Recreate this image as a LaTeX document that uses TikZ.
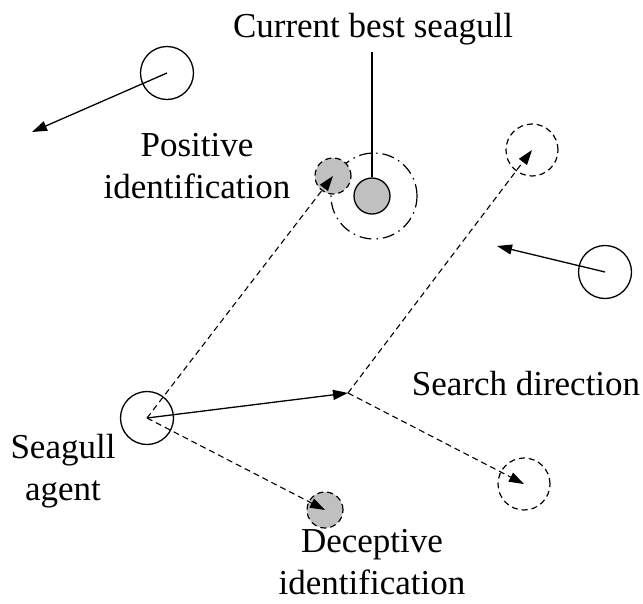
\documentclass[tikz,border=0pt]{standalone}
\usepackage{fontspec}
\setmainfont{Liberation Serif}
\usepackage{xcolor}
\usetikzlibrary{arrows.meta}
\definecolor{gullgray}{HTML}{C0C0C0}
\tikzset{
  gull/.style={circle,draw,line width=1.3pt,minimum size=53pt,inner sep=0pt},
  trial/.style={circle,draw,line width=1.2pt,dash pattern=on 6pt off 4pt,minimum size=52pt,inner sep=0pt},
  target/.style={circle,draw,fill=gullgray,line width=1.2pt,dash pattern=on 6pt off 4pt,minimum size=36pt,inner sep=0pt},
  best/.style={circle,draw,fill=gullgray,line width=1.3pt,minimum size=36pt,inner sep=0pt},
  halo/.style={circle,draw,line width=1.2pt,dash pattern=on 12pt off 5pt on 1.5pt off 5pt,minimum size=86pt,inner sep=0pt},
  move/.style={-{Triangle[length=15pt,width=10pt]},line width=1.3pt},
  probe/.style={-{Triangle[length=15pt,width=10pt]},line width=1.1pt,dash pattern=on 6pt off 4pt},
  gulltext/.style={font=\fontsize{35}{42}\selectfont,align=center,inner sep=0pt}
}
\begin{document}
\begin{tikzpicture}[x=1pt,y=-1pt]
  \useasboundingbox (0,0) rectangle (643,603);
  % seagulls
  \node[gull] (wander) at (167,73) {};
  \node[gull] (drift) at (605,272) {};
  \node[gull] (agent) at (147,418) {};
  \node[halo] (zone) at (374,196) {};
  \node[best] (best) at (372,196) {};
  \node[target] (pos) at (333,176) {};
  \node[target] (dec) at (325,510) {};
  \node[trial] (up) at (532,150) {};
  \node[trial] (down) at (524,484) {};
  \coordinate (dir) at (348,393);
  \coordinate (wanderend) at (32,132);
  \coordinate (driftend) at (497,246);
  % labels
  \node[gulltext,anchor=base] (title) at (373,37) {Current best seagull};
  \node[gulltext,anchor=base] (search) at (526,395) {Search direction};
  \node[gulltext,anchor=north] (postext) at (197,133) {Positive\\identification};
  \node[gulltext,anchor=north] (agenttext) at (63,434) {Seagull\\agent};
  \node[gulltext,anchor=north] (dectext) at (372,529) {Deceptive\\identification};
  % moves
  \draw[line width=1.1pt] (best.north) -- ++(0,-125);
  \draw[move] (wander.center) -- (wanderend);
  \draw[move] (drift.center) -- (driftend);
  \draw[move] (agent.center) -- (dir);
  \draw[probe] (agent.center) -- (pos.center);
  \draw[probe] (agent.center) -- (dec.center);
  \draw[probe] (dir) -- (up.center);
  \draw[probe] (dir) -- (down.center);
\end{tikzpicture}
\end{document}
